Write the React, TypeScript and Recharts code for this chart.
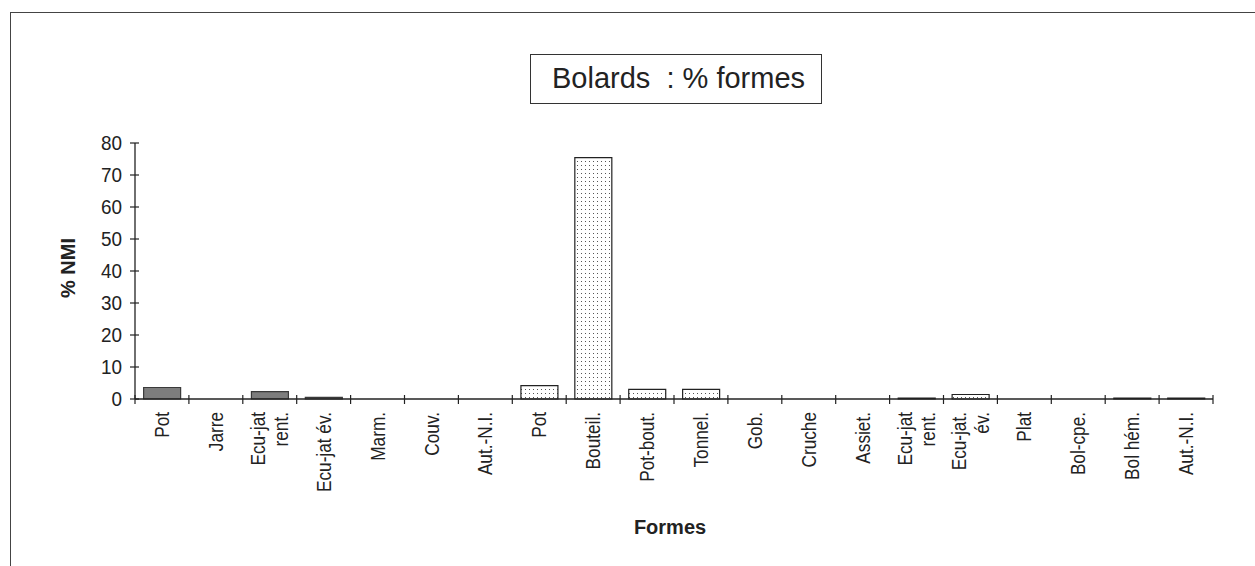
import { BarChart, Bar, Cell, XAxis, YAxis } from 'recharts';

// forms, in the order of the original sheet
const categories = [
  'Pot',
  'Jarre',
  'Ecu-jat\nrent.',
  'Ecu-jat év.',
  'Marm.',
  'Couv.',
  'Aut.-N.I.',
  'Pot',
  'Bouteil.',
  'Pot-bout.',
  'Tonnel.',
  'Gob.',
  'Cruche',
  'Assiet.',
  'Ecu-jat\nrent.',
  'Ecu-jat.\név.',
  'Plat',
  'Bol-cpe.',
  'Bol hém.',
  'Aut.-N.I.'
];

// % NMI per form
const percentNmi = [3.6, 0, 2.3, 0.5, 0, 0, 0, 4.2, 75.4, 3.0, 3.0, 0, 0, 0, 0.3, 1.4, 0, 0, 0.3, 0.3];

// first group drawn solid grey, the rest dotted
const solidGroupSize = 7;

const yTicks = [0, 10, 20, 30, 40, 50, 60, 70, 80];

const data = categories.map((label, i) => ({ id: `c${i}`, label, v: percentNmi[i] }));

const FONT = "'Liberation Sans', Arial, sans-serif";
const INK = '#222';

const YTick = ({ x, y, payload }: any) => (
  <g>
    <line x1={x - 5} x2={x + 4} y1={y} y2={y} stroke={INK} strokeWidth={1.2} />
    <text
      transform={`translate(${x - 13}, ${y}) scale(0.9, 1)`}
      textAnchor="end"
      dominantBaseline="central"
      fontSize={21}
      fontFamily={FONT}
      fill={INK}
    >
      {payload.value}
    </text>
  </g>
);

const XTick = ({ x, y, payload, index }: any) => {
  const half = payload.offset ?? 0;
  const lines = (categories[index] ?? '').split('\n');
  const ty = y + 13;
  return (
    <g>
      <line x1={x - half} x2={x - half} y1={y - 4} y2={y + 5} stroke={INK} strokeWidth={1.2} />
      {index === categories.length - 1 && (
        <line x1={x + half} x2={x + half} y1={y - 4} y2={y + 5} stroke={INK} strokeWidth={1.2} />
      )}
      {lines.map((t: string, i: number) => {
        const tx = x + (i - (lines.length - 1) / 2) * 23;
        return (
          <text
            key={i}
            transform={`translate(${tx}, ${ty}) rotate(-90) scale(0.82, 1)`}
            textAnchor="end"
            dominantBaseline="central"
            fontSize={21}
            fontFamily={FONT}
            fill={INK}
          >
            {t}
          </text>
        );
      })}
    </g>
  );
};

const App = () => {
  return (
    <div style={{ position: 'absolute', left: 0, top: 0, width: 1255, height: 566, background: '#fff', fontFamily: FONT }}>
      <div
        style={{
          position: 'absolute',
          left: 10,
          top: 12,
          width: 1245,
          height: 554,
          borderTop: '1.5px solid #444',
          borderLeft: '1.5px solid #444'
        }}
      />
      <BarChart
        width={1255}
        height={566}
        data={data}
        margin={{ top: 143, right: 42, left: 75, bottom: 17 }}
        barCategoryGap="16%"
      >
        <defs>
          <pattern id="dots" width="4" height="4" patternUnits="userSpaceOnUse">
            <rect width="4" height="4" fill="#fff" />
            <rect x="1" y="1" width="1" height="1" fill="#555" />
          </pattern>
        </defs>
        <XAxis
          dataKey="id"
          interval={0}
          height={150}
          tickLine={false}
          tickSize={0}
          tickMargin={0}
          axisLine={{ stroke: INK, strokeWidth: 1.3 }}
          tick={XTick}
        />
        <YAxis
          width={60}
          domain={[0, 80]}
          ticks={yTicks}
          tickLine={false}
          tickSize={0}
          tickMargin={0}
          axisLine={{ stroke: INK, strokeWidth: 1.3 }}
          tick={YTick}
        />
        <Bar dataKey="v" isAnimationActive={false} strokeWidth={1.2}>
          {data.map((d, i) => (
            <Cell
              key={d.id}
              fill={i < solidGroupSize ? '#7d7d7d' : 'url(#dots)'}
              stroke={i < solidGroupSize ? '#3a3a3a' : INK}
            />
          ))}
        </Bar>
      </BarChart>
      <div
        style={{
          position: 'absolute',
          left: 530,
          top: 54,
          width: 292,
          height: 50,
          boxSizing: 'border-box',
          border: '1.5px solid #333',
          paddingLeft: 21,
          lineHeight: '47px',
          fontSize: 29,
          color: INK,
          whiteSpace: 'pre'
        }}
      >
        Bolards  : % formes
      </div>
      <div
        style={{
          position: 'absolute',
          left: 18,
          top: 256,
          width: 100,
          height: 24,
          lineHeight: '24px',
          textAlign: 'center',
          fontSize: 20,
          fontWeight: 'bold',
          color: INK,
          transform: 'rotate(-90deg)'
        }}
      >
        % NMI
      </div>
      <div
        style={{
          position: 'absolute',
          left: 620,
          top: 515,
          width: 100,
          lineHeight: '24px',
          textAlign: 'center',
          fontSize: 20,
          fontWeight: 'bold',
          color: INK
        }}
      >
        Formes
      </div>
    </div>
  );
};

export default App;
